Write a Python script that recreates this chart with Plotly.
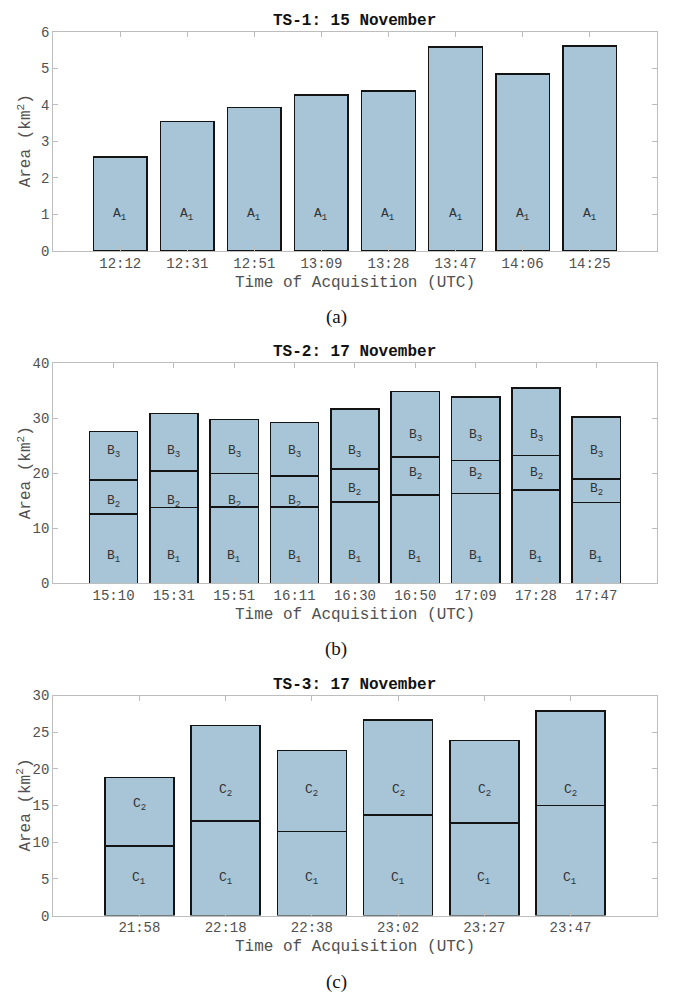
import plotly.graph_objects as go

W, H = 673, 1006

# TS-1: 15 November
times1 = ["12:12", "12:31", "12:51", "13:09", "13:28", "13:47", "14:06", "14:25"]
area_a1 = [2.57, 3.54, 3.93, 4.27, 4.37, 5.58, 4.84, 5.60]

# TS-2: 17 November
times2 = ["15:10", "15:31", "15:51", "16:11", "16:30", "16:50", "17:09", "17:28", "17:47"]
area_b1 = [12.6, 13.8, 13.9, 13.9, 14.8, 16.1, 16.3, 17.0, 14.7]
area_b2 = [6.2, 6.6, 6.1, 5.6, 6.0, 6.9, 6.0, 6.2, 4.3]
area_b3 = [8.8, 10.5, 9.8, 9.7, 10.9, 11.9, 11.6, 12.3, 11.2]

# TS-3: 17 November
times3 = ["21:58", "22:18", "22:38", "23:02", "23:27", "23:47"]
area_c1 = [9.5, 12.9, 11.5, 13.7, 12.6, 15.0]
area_c2 = [9.3, 13.0, 11.0, 13.0, 11.3, 12.9]

# heights at which the segment names are written
lab_a1 = [1.08] * 8
lab_b1 = [5.5] * 9
lab_b2 = [15.5, 15.5, 15.5, 15.5, 17.6, 20.5, 20.5, 20.5, 17.6]
lab_b3 = [24.5, 24.5, 24.5, 24.5, 24.5, 27.5, 27.5, 27.5, 24.5]
lab_c1 = [5.5] * 6
lab_c2 = [15.5, 17.4, 17.4, 17.4, 17.4, 17.4]

FILL = "rgb(167,197,215)"
EDGE = "rgb(20,20,20)"
AXC = "#bdbdbd"
TXT = "#505050"
MONO = "Liberation Mono"

X0, X1 = 53.2, 656.7  # plot box, px

panels = [
    dict(title="TS-1: 15 November", cats=times1, segs=[area_a1], names=["A"],
         labs=[lab_a1], ymax=6, dtick=1, top=25, bot=248, cap="(a)"),
    dict(title="TS-2: 17 November", cats=times2, segs=[area_b1, area_b2, area_b3], names=["B"] * 3,
         labs=[lab_b1, lab_b2, lab_b3], ymax=40, dtick=10, top=362, bot=585.7, cap="(b)"),
    dict(title="TS-3: 17 November", cats=times3, segs=[area_c1, area_c2], names=["C"] * 2,
         labs=[lab_c1, lab_c2], ymax=30, dtick=5, top=699.7, bot=923.3, cap="(c)"),
]


def py(v):
    return 1 - v / H


fig = go.Figure()
annotations = []
layout = {}

for i, p in enumerate(panels, start=1):
    sx = "" if i == 1 else str(i)
    xref, yref = "x" + sx, "y" + sx
    n = len(p["cats"])
    for k, seg in enumerate(p["segs"]):
        fig.add_trace(go.Bar(
            x=p["cats"], y=seg, xaxis=xref, yaxis=yref,
            marker=dict(color=FILL, line=dict(color=EDGE, width=1.5)),
            showlegend=False, hoverinfo="skip",
        ))
        for c, lv in zip(p["cats"], p["labs"][k]):
            annotations.append(dict(
                x=c, y=lv, xref=xref, yref=yref, showarrow=False,
                text=f"{p['names'][k]}<sub>{k + 1}</sub>",
                font=dict(family=MONO, size=13, color="#333333"),
                xanchor="center", yanchor="middle", yshift=-3,
            ))
    layout["xaxis" + sx] = dict(
        domain=[X0 / W, X1 / W], anchor=yref, type="category",
        range=[-1, n], showline=True, linecolor=AXC, linewidth=1, mirror="ticks",
        ticks="inside", ticklen=5, tickcolor=AXC, showgrid=False, zeroline=False,
        tickfont=dict(family=MONO, size=14, color=TXT), ticklabelstandoff=-1,
    )
    layout["yaxis" + sx] = dict(
        domain=[py(p["bot"]), py(p["top"])], anchor=xref,
        range=[0, p["ymax"]], dtick=p["dtick"], showline=True, linecolor=AXC, linewidth=1,
        mirror="ticks", ticks="inside", ticklen=5, tickcolor=AXC, showgrid=False,
        zeroline=False, tickfont=dict(family=MONO, size=14, color=TXT),
    )
    xc = (X0 + X1) / 2 / W
    annotations.append(dict(x=xc, y=py(p["top"] - 11), xref="paper", yref="paper",
                            text=f"<b>{p['title']}</b>", showarrow=False,
                            font=dict(family=MONO, size=16, color="#111111"),
                            xanchor="center", yanchor="middle"))
    annotations.append(dict(x=xc, y=py(p["bot"] + 32), xref="paper", yref="paper",
                            text="Time of Acquisition (UTC)", showarrow=False,
                            font=dict(family=MONO, size=16, color=TXT),
                            xanchor="center", yanchor="middle"))
    annotations.append(dict(x=25 / W, y=py((p["top"] + p["bot"]) / 2), xref="paper", yref="paper",
                            text="Area (km<sup>2</sup>)", showarrow=False, textangle=-90,
                            font=dict(family=MONO, size=16, color=TXT),
                            xanchor="center", yanchor="middle"))
    annotations.append(dict(x=336 / W, y=py(p["bot"] + 67), xref="paper", yref="paper",
                            text=p["cap"], showarrow=False,
                            font=dict(family="Liberation Serif", size=19, color="#111111"),
                            xanchor="center", yanchor="middle"))

fig.update_layout(
    width=W, height=H, margin=dict(l=0, r=0, t=0, b=0),
    paper_bgcolor="white", plot_bgcolor="white",
    barmode="stack", bargap=0.2,
    annotations=annotations, **layout,
)

fig.write_html("out.html")
